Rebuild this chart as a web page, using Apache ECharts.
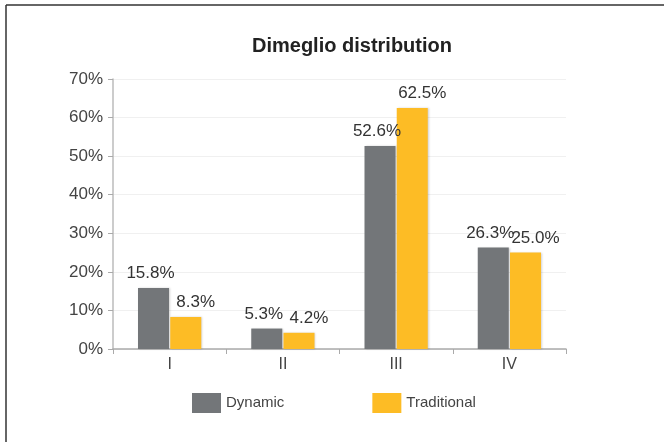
<!DOCTYPE html>
<html><head><meta charset="utf-8">
<script src="https://cdn.jsdelivr.net/npm/echarts@6/dist/echarts.min.js"></script>
<style>html,body{margin:0;padding:0;background:#fff}#c{width:664px;height:442px}</style>
</head><body><div id="c"></div>
<script>
const categories = ['I', 'II', 'III', 'IV'];
const dynamicValues = [15.8, 5.3, 52.6, 26.3];
const traditionalValues = [8.3, 4.2, 62.5, 25.0];
const seriesNames = ['Dynamic', 'Traditional'];
const titleText = 'Dimeglio distribution';

const FONT = '"Liberation Sans", Arial, sans-serif';
const chart = echarts.init(document.getElementById('c'));
const barStyle = (color) => ({
  color: color,
  shadowColor: 'rgba(0,0,0,0.18)',
  shadowBlur: 2,
  shadowOffsetX: 1,
  shadowOffsetY: 0
});
const labelCfg = (dx) => ({
  show: true,
  position: 'top',
  distance: 6,
  offset: [dx, 0],
  color: '#333',
  fontFamily: FONT,
  fontSize: 17,
  formatter: p => p.value.toFixed(1) + '%'
});
chart.setOption({
  animation: false,
  backgroundColor: '#fff',
  title: {
    text: titleText,
    left: 247,
    top: 31,
    textStyle: { fontFamily: FONT, fontSize: 20, fontWeight: 'bold', color: '#222' }
  },
  legend: {
    bottom: 24,
    left: 187,
    itemWidth: 29,
    itemHeight: 20,
    itemGap: 88,
    icon: 'rect',
    textStyle: { fontFamily: FONT, fontSize: 15, color: '#444' },
    data: seriesNames
  },
  grid: { left: 113, right: 98, top: 79, bottom: 93 },
  xAxis: {
    type: 'category',
    data: categories,
    axisLine: { lineStyle: { color: '#aaa', width: 1.5 } },
    axisTick: { show: true, length: 5, lineStyle: { color: '#aaa' } },
    axisLabel: { fontFamily: FONT, fontSize: 16, color: '#444', margin: 8 }
  },
  yAxis: {
    type: 'value',
    min: 0,
    max: 70,
    interval: 10,
    axisLine: { show: true, lineStyle: { color: '#bbb', width: 1.5 } },
    axisTick: { show: true, length: 5, lineStyle: { color: '#aaa' } },
    axisLabel: { fontFamily: FONT, fontSize: 17, color: '#444', margin: 10, formatter: '{value}%' },
    splitLine: { lineStyle: { color: '#f0f0f0' } }
  },
  series: [
    { name: seriesNames[0], type: 'bar', data: dynamicValues, barWidth: 31, barGap: '4%',
      itemStyle: barStyle('#737679'), label: labelCfg(-3) },
    { name: seriesNames[1], type: 'bar', data: traditionalValues, barWidth: 31,
      itemStyle: barStyle('#FDBC25'), label: labelCfg(10) }
  ],
  graphic: [
    { type: 'line', shape: { x1: 6, y1: 5, x2: 664, y2: 5 }, style: { stroke: '#333', lineWidth: 1.5 } },
    { type: 'line', shape: { x1: 6, y1: 5, x2: 6, y2: 442 }, style: { stroke: '#333', lineWidth: 1.5 } }
  ]
});
</script></body></html>
